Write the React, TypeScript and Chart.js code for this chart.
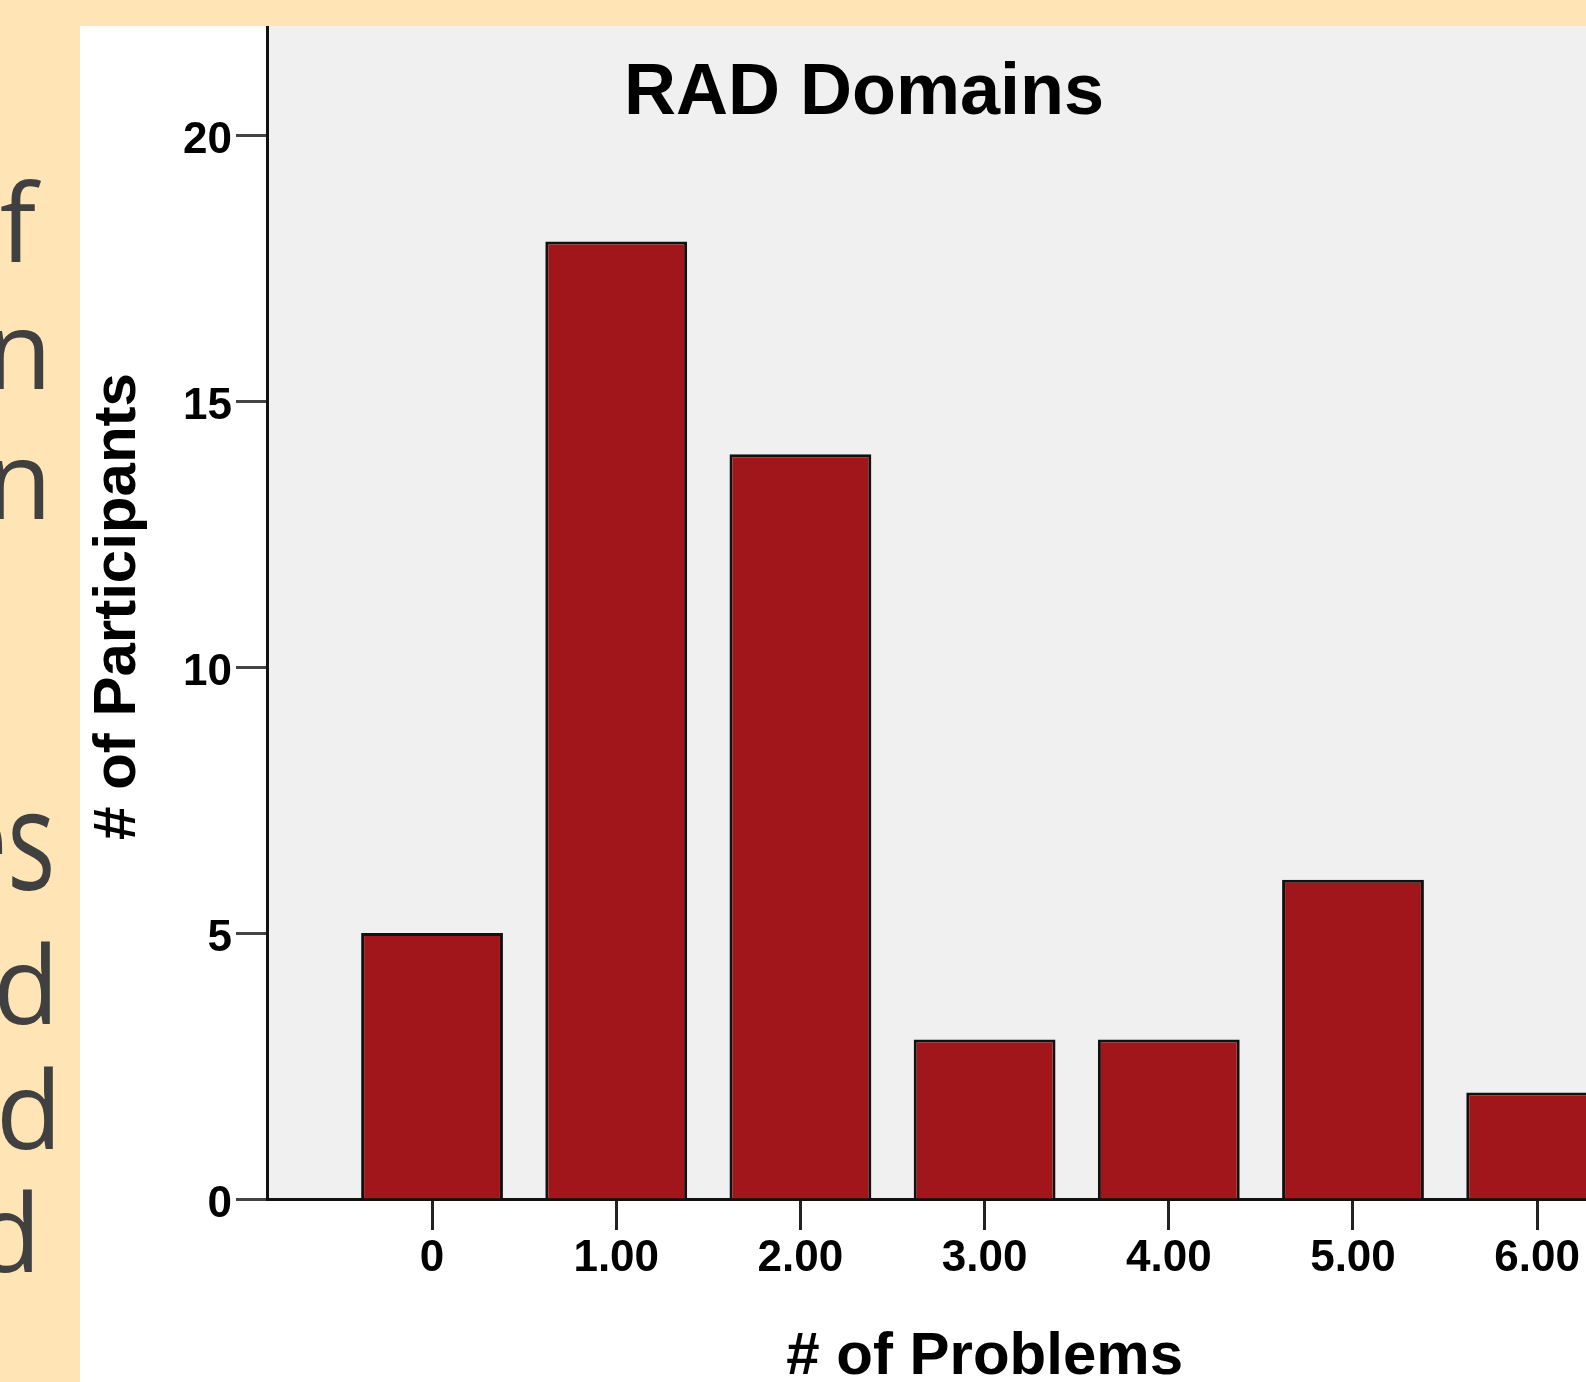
import React, { useEffect, useRef } from 'react';
import { Chart, registerables } from 'chart.js';

Chart.register(...registerables);

// ---- data ----
const categories = [0, 1, 2, 3, 4, 5, 6];
const tickLabels = ['0', '1.00', '2.00', '3.00', '4.00', '5.00', '6.00'];
const participants = [5, 18, 14, 3, 3, 6, 2];
const yTickValues = [0, 5, 10, 15, 20];
const chartTitle = 'RAD Domains';
const xAxisTitle = '# of Problems';
const yAxisTitle = '# of Participants';
const sideLetters = ['f', 'n', 'n', 'es', 'd', 'd', 'd'];

// ---- layout (not data) ----
const sideLayout = [
  { right: 44, baseline: 263, size: 108, sx: 1 },
  { right: 28, baseline: 390, size: 108, sx: 1 },
  { right: 28, baseline: 520, size: 108, sx: 1 },
  { right: 25, baseline: 890, size: 140, sx: 0.72 },
  { right: 21, baseline: 1025, size: 108, sx: 1 },
  { right: 18, baseline: 1150, size: 108, sx: 1 },
  { right: 39, baseline: 1273, size: 108, sx: 1 },
];

const FONT = '"Liberation Sans", Arial, Helvetica, sans-serif';

export default function App() {
  const canvasRef = useRef<HTMLCanvasElement>(null);

  useEffect(() => {
    const canvas = canvasRef.current;
    if (!canvas) return;

    const plotBg = {
      id: 'plotBg',
      beforeDraw(chart: any) {
        const { ctx, chartArea: a } = chart;
        ctx.save();
        ctx.fillStyle = '#F0F0F0';
        ctx.fillRect(a.left, a.top, a.right - a.left, a.bottom - a.top);
        ctx.restore();
      },
    };

    const texts = {
      id: 'texts',
      afterDraw(chart: any) {
        const { ctx, chartArea: a } = chart;
        const xs = chart.scales.x;
        ctx.save();
        ctx.fillStyle = '#000';
        ctx.textAlign = 'center';
        ctx.textBaseline = 'alphabetic';
        ctx.font = `bold 72px ${FONT}`;
        ctx.fillText(chartTitle, a.left + 597, a.top + 88);
        ctx.font = `bold 60px ${FONT}`;
        ctx.fillText(xAxisTitle, xs.getPixelForValue(3), 1348);
        ctx.translate(55, (a.top + a.bottom) / 2 - 6);
        ctx.rotate(-Math.PI / 2);
        ctx.fillText(yAxisTitle, 0, 0);
        ctx.restore();
      },
    };

    const chart = new Chart(canvas, {
      type: 'bar',
      data: {
        datasets: [
          {
            label: yAxisTitle,
            data: categories.map((c, i) => ({ x: c, y: participants[i] })),
            backgroundColor: '#A1161B',
            borderColor: '#111111',
            borderWidth: 3,
            barPercentage: 0.77,
            categoryPercentage: 1,
          },
        ],
      },
      options: {
        animation: false,
        responsive: false,
        devicePixelRatio: 1,
        layout: { padding: 0 },
        plugins: {
          legend: { display: false },
          tooltip: { enabled: false },
          title: { display: false },
        },
        scales: {
          x: {
            type: 'linear',
            offset: false,
            min: -0.896,
            max: 6.265,
            bounds: 'data',
            afterBuildTicks: (scale: any) => {
              scale.ticks = categories.map((v) => ({ value: v }));
            },
            afterFit: (scale: any) => {
              scale.height = 183;
              scale.paddingLeft = 0;
              scale.paddingRight = 0;
            },
            ticks: {
              autoSkip: false,
              maxRotation: 0,
              padding: 2,
              color: '#000',
              font: { family: FONT, size: 44, weight: 'bold' },
              callback: (value: any) => {
                const i = categories.indexOf(Number(value));
                return i >= 0 ? tickLabels[i] : '';
              },
            },
            grid: {
              offset: false,
              drawOnChartArea: false,
              drawTicks: true,
              tickLength: 31,
              tickWidth: 3,
              tickColor: '#222',
            },
            border: { display: true, color: '#111', width: 3 },
          },
          y: {
            type: 'linear',
            min: 0,
            max: 22.05,
            bounds: 'data',
            afterBuildTicks: (scale: any) => {
              scale.ticks = yTickValues.map((v) => ({ value: v }));
            },
            afterFit: (scale: any) => {
              scale.width = 187;
              scale.paddingTop = 0;
              scale.paddingBottom = 0;
            },
            ticks: {
              padding: 4,
              labelOffset: 6,
              color: '#000',
              font: { family: FONT, size: 44, weight: 'bold' },
              callback: (value: any) => String(value),
            },
            grid: {
              drawOnChartArea: false,
              drawTicks: true,
              tickLength: 31,
              tickWidth: 3,
              tickColor: '#444',
            },
            border: { display: true, color: '#111', width: 3 },
          },
        },
      },
      plugins: [plotBg, texts],
    } as any);

    return () => chart.destroy();
  }, []);

  return (
    <div
      style={{
        position: 'absolute',
        left: 0,
        top: 0,
        width: 1586,
        height: 1382,
        overflow: 'hidden',
        background: '#FFFFFF',
      }}
    >
      <div
        style={{
          position: 'absolute',
          left: 0,
          top: 0,
          width: 1586,
          height: 26,
          background: '#FFE4B5',
        }}
      />
      <div
        style={{
          position: 'absolute',
          left: 0,
          top: 0,
          width: 80,
          height: 1382,
          background: '#FFE4B5',
          overflow: 'hidden',
        }}
      >
        {sideLetters.map((t, i) => {
          const l = sideLayout[i];
          return (
            <span
              key={i}
              style={{
                position: 'absolute',
                right: l.right,
                top: l.baseline - 0.888 * l.size,
                fontFamily: '"Open Sans", sans-serif',
                fontSize: l.size,
                lineHeight: `${l.size}px`,
                color: '#404040',
                whiteSpace: 'nowrap',
                transform: `scaleX(${l.sx})`,
                transformOrigin: 'right center',
              }}
            >
              {t}
            </span>
          );
        })}
      </div>
      <canvas
        ref={canvasRef}
        width={1506}
        height={1356}
        style={{ position: 'absolute', left: 80, top: 26, width: 1506, height: 1356 }}
      />
    </div>
  );
}
